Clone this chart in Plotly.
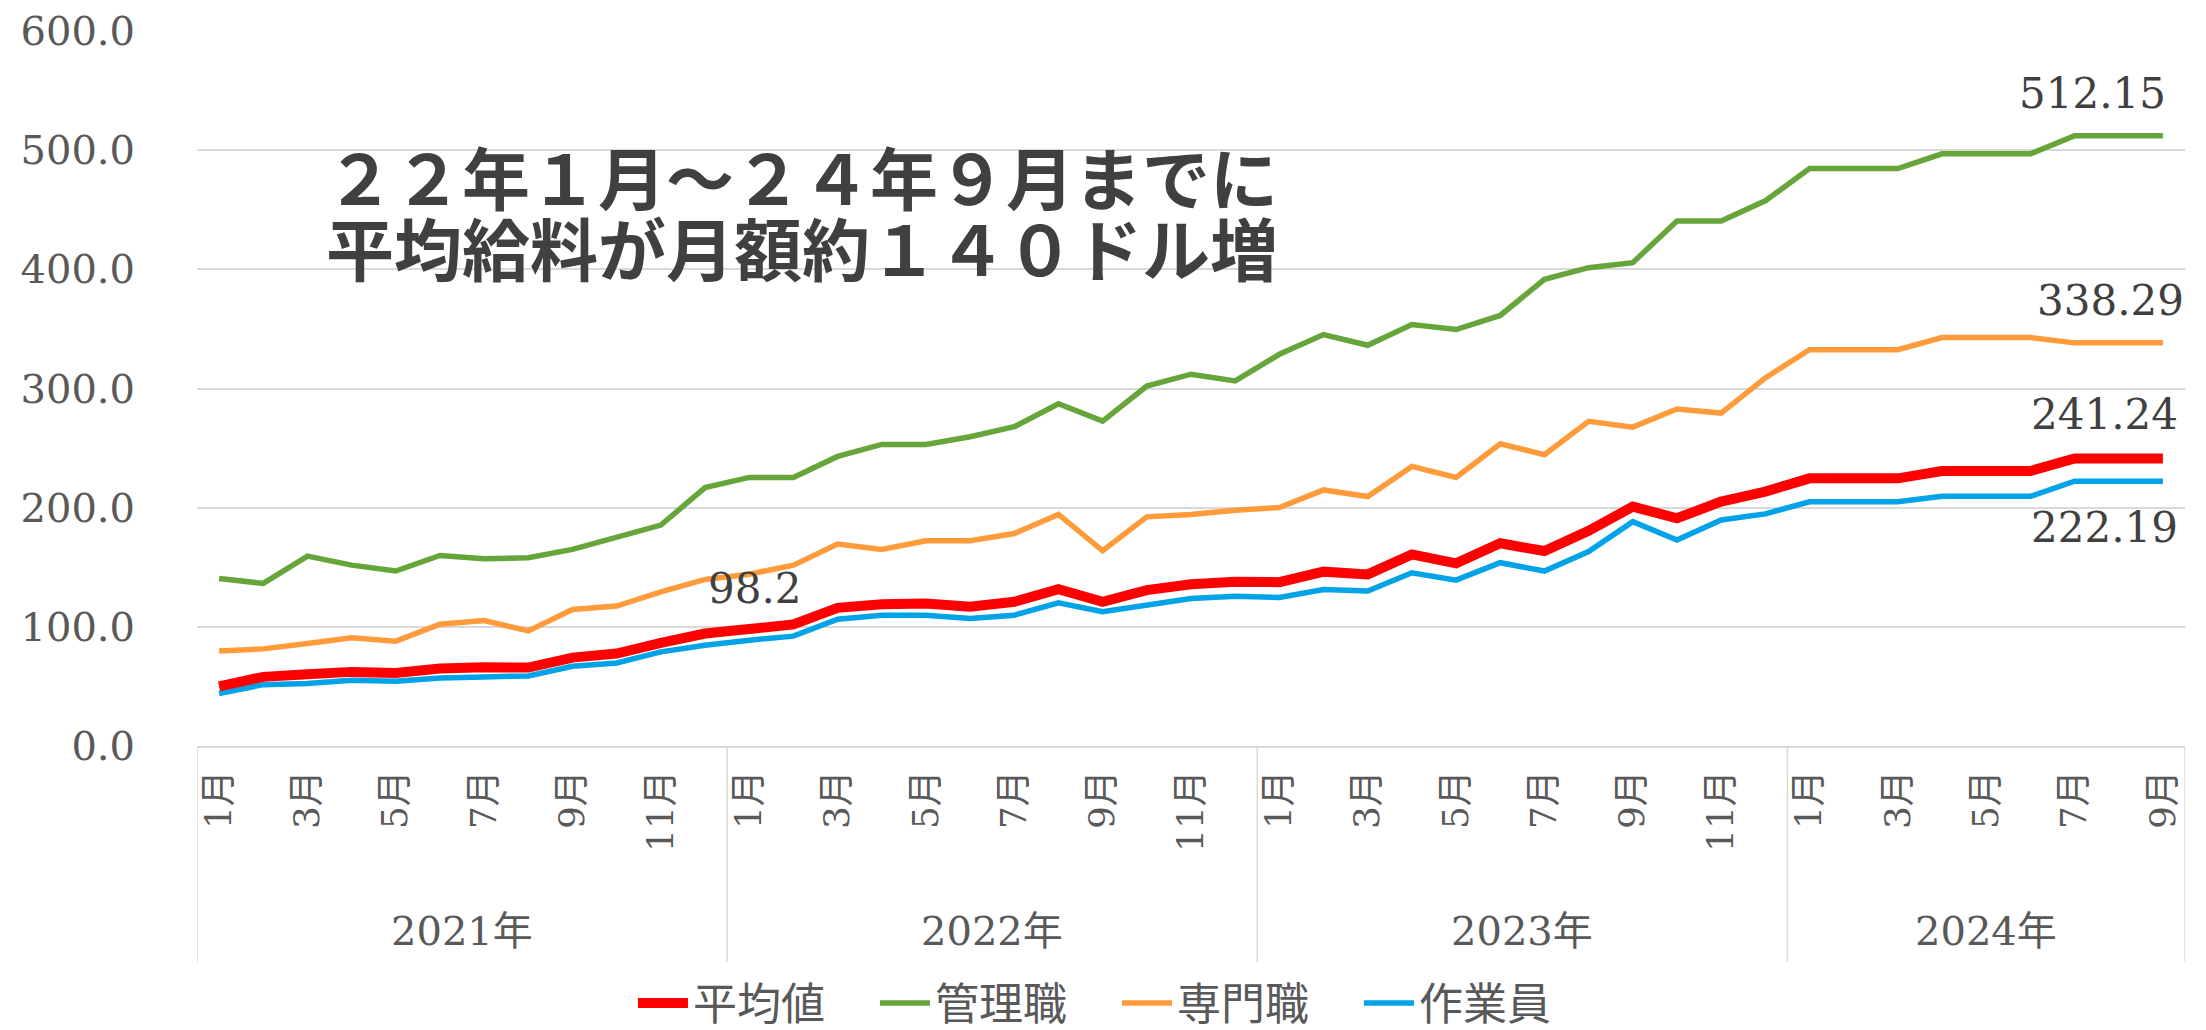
import plotly.graph_objects as go

# ---------------- data ----------------
years = ["2021年", "2022年", "2023年", "2024年"]
months_per_year = [12, 12, 12, 9]

series_names = ["平均値", "管理職", "専門職", "作業員"]

avg = [50.1, 58.0, 60.2, 62.2, 61.3, 65.0, 66.1, 65.8, 74.2, 77.6, 86.6, 94.4,
       98.2, 102.0, 115.9, 119.0, 119.6, 116.8, 121.0, 131.6, 121.0, 130.8, 135.8, 137.8,
       137.5, 146.3, 144.0, 160.8, 153.3, 170.1, 163.6, 180.5, 200.9, 191.1, 205.1, 213.5,
       224.6, 224.6, 224.6, 230.8, 230.8, 230.8, 241.24, 241.24, 241.24]

mgr = [140.6, 136.4, 159.4, 151.8, 146.8, 159.9, 157.1, 158.0, 165.0, 175.6, 185.4, 216.8,
       225.4, 225.4, 243.0, 253.1, 253.1, 259.5, 267.9, 287.2, 272.6, 302.0, 312.0, 306.4,
       328.7, 345.3, 336.3, 353.7, 349.5, 361.3, 391.6, 401.4, 405.6, 440.5, 440.5, 457.5,
       484.6, 484.6, 484.6, 496.9, 496.9, 496.9, 512.15, 512.15, 512.15]

pro = [79.8, 81.5, 86.0, 90.8, 88.0, 102.2, 105.3, 96.6, 114.6, 117.4, 129.4, 139.8,
       144.2, 151.7, 169.4, 164.9, 172.2, 172.2, 178.3, 194.3, 163.8, 192.3, 194.3, 197.9,
       200.1, 214.9, 209.3, 234.6, 225.3, 253.6, 244.4, 272.4, 267.6, 282.8, 279.4, 308.9,
       332.5, 332.5, 332.5, 342.7, 342.7, 342.7, 338.29, 338.29, 338.29]

wrk = [44.0, 51.5, 52.4, 55.2, 54.3, 57.1, 58.0, 58.8, 66.9, 69.7, 79.0, 84.6,
       88.8, 92.2, 106.4, 109.8, 109.8, 107.0, 109.8, 120.1, 112.6, 118.2, 123.8, 125.7,
       124.7, 131.4, 130.0, 145.4, 139.2, 153.8, 146.8, 163.1, 188.3, 172.9, 189.7, 194.8,
       204.9, 204.9, 204.9, 209.5, 209.5, 209.5, 222.19, 222.19, 222.19]

y_ticks = [0, 100, 200, 300, 400, 500, 600]

title_lines = ["２２年１月～２４年９月までに", "平均給料が月額約１４０ドル増"]

# ---------------- categories ----------------
cats, month_nums = [], []
for yr, n in zip(years, months_per_year):
    for m in range(1, n + 1):
        cats.append(f"{yr}{m}月")
        month_nums.append(m)
tickvals = [c for c, m in zip(cats, month_nums) if m % 2 == 1]
ticktext = [f"{m}月" for m in month_nums if m % 2 == 1]

NUM_FONT = "DejaVu Serif, Noto Sans CJK JP"
CJK_FONT = "Noto Sans CJK JP"
GRID = "#D9D9D9"

colors = {"平均値": "#FF0000", "管理職": "#66A53A", "専門職": "#FF9B3A", "作業員": "#00A3E8"}
widths = {"平均値": 10, "管理職": 5.5, "専門職": 5.5, "作業員": 5.5}
values = {"平均値": avg, "管理職": mgr, "専門職": pro, "作業員": wrk}

fig = go.Figure()
draw_order = ["管理職", "専門職", "作業員", "平均値"]
for name in draw_order:
    fig.add_trace(go.Scatter(
        x=cats, y=values[name], mode="lines", name=name,
        line=dict(color=colors[name], width=widths[name]),
        legendrank=series_names.index(name) + 1,
    ))

# ---------------- data labels ----------------
label_specs = [
    (mgr, len(mgr) - 1, "{:.2f}", -70, 42),
    (pro, len(pro) - 1, "{:.2f}", -52, 42),
    (avg, len(avg) - 1, "{:.2f}", -58, 44),
    (wrk, len(wrk) - 1, "{:.2f}", -58, -46),
    (avg, 12, "{:.1f}", 6, 40),
]
for arr, idx, fmt, xs, ys in label_specs:
    fig.add_annotation(x=cats[idx], y=arr[idx], text=fmt.format(arr[idx]),
                       showarrow=False, xshift=xs, yshift=ys,
                       font=dict(family=NUM_FONT, size=42, color="#404040"))

# ---------------- year group labels & dividers ----------------
start = 0
bounds = [-0.5]
for yr, n in zip(years, months_per_year):
    center = start + (n - 1) / 2
    fig.add_annotation(x=center, y=-0.2587, xref="x", yref="paper", text=yr,
                       showarrow=False, yanchor="middle",
                       font=dict(family=NUM_FONT, size=40, color="#595959"))
    start += n
    bounds.append(start - 0.5)
for b in bounds:
    fig.add_shape(type="line", xref="x", yref="paper", x0=b, x1=b, y0=0, y1=-0.302,
                  line=dict(color=GRID, width=1.5))

# ---------------- headline ----------------
fig.add_shape(type="rect", xref="paper", yref="paper", x0=0.0553, x1=0.5553,
              y0=0.6378, y1=0.8587, fillcolor="white", line=dict(width=0),
              layer="between")
for line, yp in zip(title_lines, [0.7986, 0.6993]):
    fig.add_annotation(x=0.3043, y=yp, xref="paper", yref="paper", text=line,
                       showarrow=False, xanchor="center", yanchor="middle",
                       font=dict(family=CJK_FONT, size=68, color="#404040", weight="bold"))

fig.update_layout(
    width=2198, height=1022,
    margin=dict(l=189, r=21, t=23, b=284, autoexpand=False),
    paper_bgcolor="white", plot_bgcolor="white",
    showlegend=True,
    legend=dict(orientation="h", x=0.2193, xanchor="left", y=-0.360, yanchor="middle",
                font=dict(family=CJK_FONT, size=44, color="#595959"),
                entrywidth=177, entrywidthmode="pixels",
                itemwidth=50, traceorder="normal"),
    xaxis=dict(type="category", range=[-0.5, len(cats) - 0.5], automargin=False,
               tickvals=tickvals, ticktext=ticktext, tickangle=-90,
               tickfont=dict(family=NUM_FONT, size=36, color="#595959"),
               showgrid=False, showline=True, linecolor=GRID, linewidth=1.5,
               ticks="", ticklabelstandoff=8, zeroline=False),
    yaxis=dict(range=[0, 600], tickvals=y_ticks, tickformat=".1f", automargin=False,
               tickfont=dict(family=NUM_FONT, size=40, color="#595959"),
               showgrid=True, gridcolor=GRID, gridwidth=1.5,
               zeroline=False, showline=False, ticks="", ticklabelstandoff=61),
)

fig.write_html("out.html")
